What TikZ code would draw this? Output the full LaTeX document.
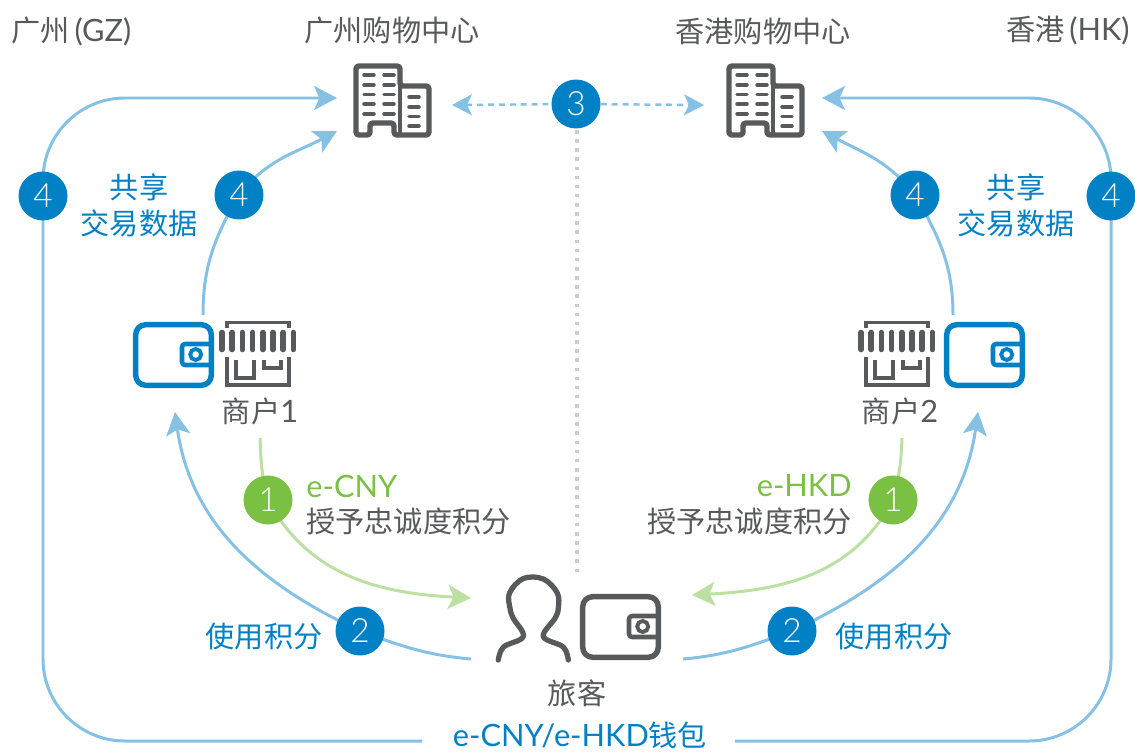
\documentclass[tikz,border=0pt]{standalone}
\usepackage{fontspec}
\setmainfont{Noto Sans CJK SC}
\newfontfamily\latinfont{Lato}
\newfontfamily\digitfont{Lato Light}
\usetikzlibrary{arrows.meta,backgrounds}
\definecolor{brandblue}{HTML}{0080C5}
\definecolor{paleblue}{HTML}{85C1E5}
\definecolor{brandgreen}{HTML}{7AC143}
\definecolor{palegreen}{HTML}{BCDFA2}
\definecolor{icongray}{HTML}{58595B}
\definecolor{textgray}{HTML}{58595B}
\definecolor{dotgray}{HTML}{CCCCCC}
\def\lat#1{{\fontsize{17.5}{17.5}\selectfont\latinfont #1}}
\tikzset{
	flow/.style={line width=1.7pt, -{Stealth[length=0.46cm,width=0.48cm,inset=0.11cm]}},
	blueflow/.style={flow, color=paleblue},
	greenflow/.style={flow, color=palegreen},
	dashflow/.style={line width=1.4pt, color=paleblue, dash pattern=on 3.4pt off 2.8pt},
	badge/.style={circle, minimum size=0.98cm, inner sep=0pt, text=white, font=\fontsize{19}{19}\selectfont\digitfont},
	bluebadge/.style={badge, fill=brandblue},
	greenbadge/.style={badge, fill=brandgreen},
	label/.style={inner sep=0pt, font=\fontsize{16.6}{16.6}\selectfont, text=textgray},
	bluelabel/.style={label, text=brandblue},
	greenlabel/.style={label, text=brandgreen},
	iconline/.style={line width=3.1pt, line cap=round, line join=round},
}
\def\mallicon(#1){
	\begin{scope}[shift={(#1)}, color=icongray]
		\draw[iconline, rounded corners=0.06cm] (3,3) -- (47,3) -- (47,23) -- (76,23) -- (76,72) -- (41,72) -- (41,60) -- (17,60) -- (17,72) -- (3,72) -- cycle;
		\draw[line width=2.4pt] (47,23) -- (47,72);
		\foreach \y in {12,22,31.5,41,51} {
			\draw[line width=2pt, line cap=round] (11,\y) -- (21,\y);
			\draw[line width=2pt, line cap=round] (31,\y) -- (41,\y);
		}
		\foreach \y in {34,44,53.5,63} {
			\draw[line width=2pt, line cap=round] (56,\y) -- (66,\y);
		}
	\end{scope}
}
\def\walleticon[#1](#2){
	\begin{scope}[shift={(#2)}, color=#1]
		\draw[iconline, rounded corners=0.2cm] (2.7,2.7) rectangle (78.3,63.3);
		\draw[line width=2.6pt, line join=round, rounded corners=0.06cm] (78,22) -- (49,22) -- (49,43) -- (78,43);
		\draw[line width=2.2pt] (62.7,32.5) circle (5.5);
	\end{scope}
}
\def\shopicon(#1){
	\begin{scope}[shift={(#1)}, color=icongray]
		\draw[line width=1.8pt] (7,7) -- (7,1.5) -- (69,1.5) -- (69,7);
		\foreach \x in {2,12.2,22.4,32.6,42.8,53,63.2,73.4} {
			\draw[line width=3.2pt, line cap=round] (\x,11.5) -- (\x,28.5);
		}
		\draw[line width=1.9pt] (7,36) -- (7,64) -- (69,64) -- (69,36);
		\draw[line width=1.9pt] (16,39) -- (16,57) -- (34,57) -- (34,39);
		\draw[line width=1.9pt] (44,39) -- (44,47) -- (61,47) -- (61,39);
	\end{scope}
}
\begin{document}
\begin{tikzpicture}[x=0.02cm, y=-0.02cm]
		%%%%% START %%%%%
		\useasboundingbox (0, 0) rectangle (1135, 753);
		
		\coordinate (gzMallTop) at (337, 98);
		\coordinate (gzMallLow) at (337, 131);
		\coordinate (gzMallDash) at (452, 105);
		\coordinate (hkMallTop) at (822, 98);
		\coordinate (hkMallLow) at (822, 131);
		\coordinate (hkMallDash) at (704, 105);
		\coordinate (shopOneOut) at (203, 315);
		\coordinate (shopTwoOut) at (953, 315);
		\coordinate (shopOneIn) at (175, 412);
		\coordinate (shopTwoIn) at (978, 412);
		\coordinate (shopOneGive) at (260, 438);
		\coordinate (shopTwoGive) at (902, 438);
		\coordinate (guestGetL) at (471, 598);
		\coordinate (guestGetR) at (692, 595);
		\coordinate (guestPayL) at (471, 659);
		\coordinate (guestPayR) at (683, 659);
		\coordinate (walletL) at (422, 741);
		\coordinate (walletR) at (735, 741);
		\coordinate (borderTop) at (577, 130);
		\coordinate (borderLow) at (577, 575);
		
		\node[bluebadge] (shareGZ) at (43, 196) {4};
		\node[bluebadge] (shopGZ) at (239, 195) {4};
		\node[bluebadge] (shopHK) at (915, 195) {4};
		\node[bluebadge] (shareHK) at (1111, 196) {4};
		\node[bluebadge] (link) at (576, 104) {3};
		\node[greenbadge] (grantOne) at (268, 500) {1};
		\node[greenbadge] (grantTwo) at (893, 500) {1};
		\node[bluebadge] (redeemOne) at (360, 631) {2};
		\node[bluebadge] (redeemTwo) at (792, 631) {2};
		
		\begin{pgfonlayer}{background}
			\draw[line width=2pt, color=dotgray, dash pattern=on 2pt off 3.2pt] (borderTop) -- (borderLow);
			\draw[dashflow, {Stealth[length=0.4cm,width=0.42cm,inset=0.1cm]}-] (gzMallDash) -- (link);
			\draw[dashflow, -{Stealth[length=0.4cm,width=0.42cm,inset=0.1cm]}] (link) -- (hkMallDash);
			
			\draw[blueflow, rounded corners=1.64cm] (walletL) -| (shareGZ |- gzMallTop) -- (gzMallTop);
			\draw[blueflow, rounded corners=1.64cm] (walletR) -| (shareHK |- hkMallTop) -- (hkMallTop);
			\draw[blueflow] (shopOneOut) to[out=90, in=240] (shopGZ.center) to[out=52, in=208] (gzMallLow);
			\draw[blueflow] (shopTwoOut) to[out=90, in=-60] (shopHK.center) to[out=128, in=-28] (hkMallLow);
			\draw[blueflow] (guestPayL) to[out=175, in=-20] (redeemOne.center) to[out=155, in=-82] (shopOneIn);
			\draw[blueflow] (guestPayR) to[out=5, in=200] (redeemTwo.center) to[out=25, in=-98] (shopTwoIn);
			\draw[greenflow] (shopOneGive) to[out=-88, in=105] (grantOne.center) to[out=-62, in=177] (guestGetL);
			\draw[greenflow] (shopTwoGive) to[out=-92, in=75] (grantTwo.center) to[out=-118, in=3] (guestGetR);
		\end{pgfonlayer}
		
		\mallicon(353, 63);
		\mallicon(726, 63);
		\walleticon[brandblue](133, 322);
		\walleticon[brandblue](944, 322);
		\walleticon[icongray](580, 594);
		\shopicon(220, 321);
		\shopicon(859, 321);
		
		\draw[icongray, line width=3pt, line cap=round, line join=round] plot[smooth, tension=0.6] coordinates {(498.3,660) (503.5,647) (523.3,636.5) (513.3,618.3) (510,608.3) (509.5,593) (523.3,578.5) (543.3,579) (557.3,593) (558.3,608.3) (555,618.3) (543.3,636.5) (563.3,647) (568.3,660)};
		
		\node[label, anchor=west] (cityGZ) at (11, 31) {广州\,\lat{(GZ)}};
		\node[label] (mallGZ) at (392, 31) {广州购物中心};
		\node[label] (mallHK) at (763, 31) {香港购物中心};
		\node[label, anchor=east] (cityHK) at (1130, 31) {香港\,\lat{(HK)}};
		\node[bluelabel] (shareL) at (139, 187) {共享};
		\node[bluelabel] (shareDataL) at (139, 223) {交易数据};
		\node[bluelabel] (shareR) at (1016, 187) {共享};
		\node[bluelabel] (shareDataR) at (1016, 223) {交易数据};
		\node[label] (merchantOne) at (260, 411) {商户\lat{1}};
		\node[label] (merchantTwo) at (900, 411) {商户\lat{2}};
		\node[greenlabel, anchor=west] (cnyTag) at (306, 486) {\lat{e-CNY}};
		\node[label, anchor=west] (cnyGrant) at (306, 521) {授予忠诚度积分};
		\node[greenlabel, anchor=east] (hkdTag) at (852, 486) {\lat{e-HKD}};
		\node[label, anchor=east] (hkdGrant) at (852, 521) {授予忠诚度积分};
		\node[bluelabel] (useOne) at (264, 636) {使用积分};
		\node[bluelabel] (useTwo) at (894, 636) {使用积分};
		\node[label] (guest) at (577, 693) {旅客};
		\node[bluelabel] (walletName) at (580, 735) {\lat{e-CNY/e-HKD}钱包};
		
		%%%%% END %%%%%
	\end{tikzpicture}
\end{document}
